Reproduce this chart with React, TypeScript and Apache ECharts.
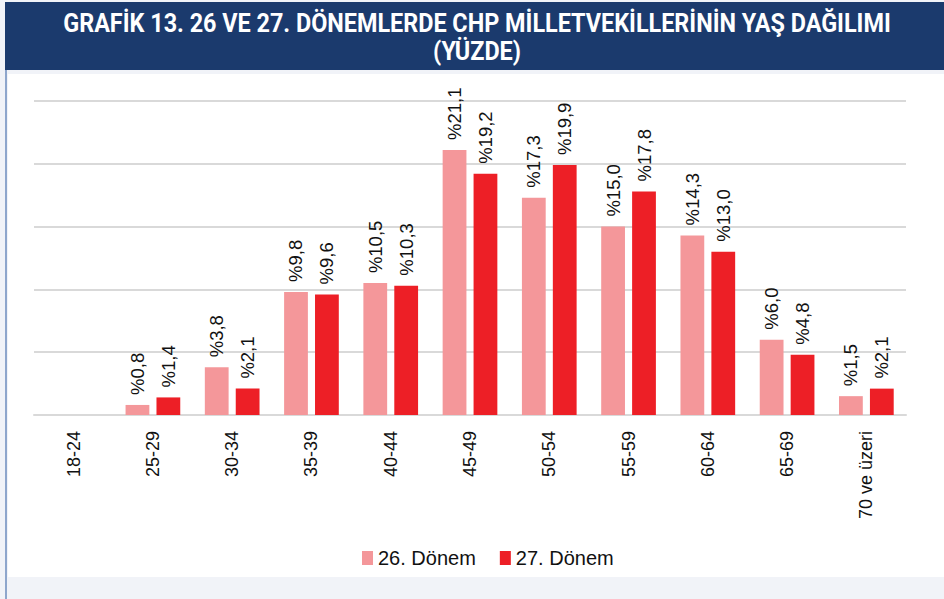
import React, { useEffect, useRef } from "react";
import * as echarts from "echarts";

const categories = ["18-24", "25-29", "30-34", "35-39", "40-44", "45-49", "50-54", "55-59", "60-64", "65-69", "70 ve üzeri"];
const donem26 = [0, 0.8, 3.8, 9.8, 10.5, 21.1, 17.3, 15.0, 14.3, 6.0, 1.5];
const donem27 = [0, 1.4, 2.1, 9.6, 10.3, 19.2, 19.9, 17.8, 13.0, 4.8, 2.1];
const seriesNames = ["26. Dönem", "27. Dönem"];
const titleLines = ["GRAFİK 13. 26 VE 27. DÖNEMLERDE CHP MİLLETVEKİLLERİNİN YAŞ DAĞILIMI", "(YÜZDE)"];

const fmt = (p: any) => (p.value ? "%" + Number(p.value).toFixed(1).replace(".", ",") : "");

export default function App() {
  const ref = useRef<HTMLDivElement>(null);
  useEffect(() => {
    if (!ref.current) return;
    const chart = echarts.init(ref.current, null, { renderer: "svg" });
    const label = {
      show: true,
      position: "top" as const,
      rotate: 90,
      align: "left" as const,
      verticalAlign: "middle" as const,
      distance: 10,
      fontFamily: "Liberation Sans",
      fontSize: 18.5,
      color: "#111",
      formatter: fmt,
    };
    const titleText = (text: string, y: number) => ({
      type: "text",
      x: 477,
      y,
      scaleX: 0.9,
      style: {
        text,
        fill: "#ffffff",
        font: "bold 26px Roboto",
        textAlign: "center",
        textVerticalAlign: "middle",
      },
      z: 2,
    });
    chart.setOption({
      animation: false,
      backgroundColor: "#f1f3f8",
      graphic: [
        { type: "rect", shape: { x: 5, y: 2, width: 939, height: 68 }, style: { fill: "#1b3a6d" }, z: 0 },
        { type: "rect", shape: { x: 8, y: 74, width: 936, height: 503 }, style: { fill: "#ffffff" }, z: 0 },
        { type: "line", shape: { x1: 6, y1: 70, x2: 6, y2: 599 }, style: { stroke: "#8ea6cc", lineWidth: 2 }, z: 1 },
        titleText(titleLines[0], 23),
        titleText(titleLines[1], 51),
      ],
      legend: {
        data: seriesNames,
        bottom: 26,
        left: 357,
        itemWidth: 11,
        itemHeight: 14,
        itemGap: 24,
        icon: "rect",
        textStyle: { fontFamily: "Liberation Sans", fontSize: 20, color: "#111" },
      },
      grid: { left: 34, right: 38, top: 101, bottom: 184 },
      xAxis: {
        type: "category",
        data: categories,
        axisLine: { lineStyle: { color: "#d9d9d9", width: 2 } },
        axisTick: { show: false },
        axisLabel: {
          rotate: 90,
          interval: 0,
          margin: 16,
          fontFamily: "Liberation Sans",
          fontSize: 18,
          color: "#111",
        },
      },
      yAxis: {
        type: "value",
        min: 0,
        max: 25,
        interval: 5,
        axisLabel: { show: false },
        axisLine: { show: false },
        axisTick: { show: false },
        splitLine: { lineStyle: { color: "#d9d9d9", width: 2 } },
      },
      series: [
        {
          name: seriesNames[0],
          type: "bar",
          data: donem26,
          barWidth: "30%",
          barGap: "30%",
          itemStyle: { color: "#f4979a" },
          label,
        },
        {
          name: seriesNames[1],
          type: "bar",
          data: donem27,
          barWidth: "30%",
          itemStyle: { color: "#ed1f26" },
          label,
        },
      ],
    });
    return () => chart.dispose();
  }, []);
  return <div ref={ref} style={{ position: "fixed", left: 0, top: 0, width: 944, height: 599 }} />;
}
